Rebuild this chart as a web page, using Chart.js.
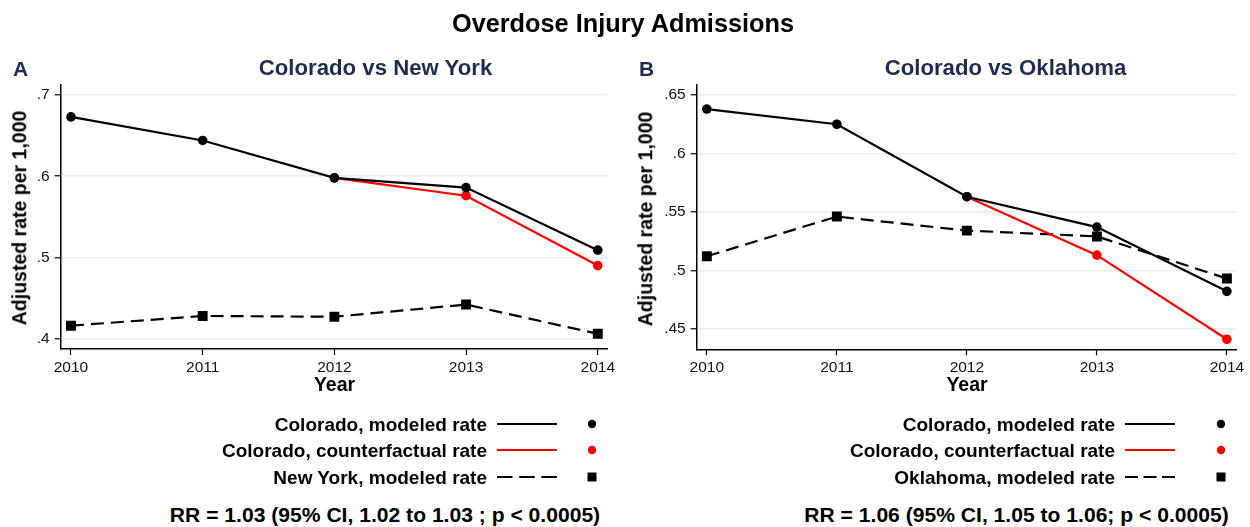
<!DOCTYPE html>
<html>
<head>
<meta charset="utf-8">
<script src="https://cdn.jsdelivr.net/npm/chart.js@4.4.0/dist/chart.umd.min.js"></script>
<style>
html,body{margin:0;padding:0;background:#fff;}
#root{position:relative;width:1250px;height:527px;overflow:hidden;font-family:'Liberation Sans',Arial,Helvetica,sans-serif;background:#fff;}
.t{position:absolute;white-space:nowrap;line-height:1;font-weight:bold;color:#000;}
.c{transform:translate(-50%,-50%);}
.r{transform:translate(-100%,-50%);text-align:right;}
.l{transform:translate(0,-50%);}
.v{transform:translate(-50%,-50%) rotate(-90deg);}
.navy{color:#1d2c4f;}
canvas{position:absolute;top:0;}
svg{position:absolute;left:0;top:0;}
</style>
</head>
<body>
<div id="root">
  <canvas id="chartA" width="625" height="400" style="left:0;width:625px;height:400px"></canvas>
  <canvas id="chartB" width="625" height="400" style="left:625px;width:625px;height:400px"></canvas>

  <div class="t c" style="left:623px;top:24px;font-size:25.3px">Overdose Injury Admissions</div>

  <div class="t l navy" style="left:13px;top:67.5px;font-size:21px">A</div>
  <div class="t c navy" style="left:375.5px;top:67.5px;font-size:22.2px">Colorado vs New York</div>
  <div class="t l navy" style="left:639px;top:67.5px;font-size:21px">B</div>
  <div class="t c navy" style="left:1005.5px;top:67.5px;font-size:22.2px">Colorado vs Oklahoma</div>

  <div class="t v" style="left:20px;top:217.5px;font-size:19.5px">Adjusted rate per 1,000</div>
  <div class="t v" style="left:645.5px;top:218.5px;font-size:19.5px">Adjusted rate per 1,000</div>
  <div class="t c" style="left:334.5px;top:385px;font-size:19.5px">Year</div>
  <div class="t c" style="left:967px;top:385px;font-size:19.5px">Year</div>

  <div class="t r" style="left:487px;top:424px;font-size:19px">Colorado, modeled rate</div>
  <div class="t r" style="left:487px;top:450px;font-size:19px">Colorado, counterfactual rate</div>
  <div class="t r" style="left:487px;top:476.5px;font-size:19px">New York, modeled rate</div>
  <div class="t r" style="left:1115px;top:424px;font-size:19px">Colorado, modeled rate</div>
  <div class="t r" style="left:1115px;top:450px;font-size:19px">Colorado, counterfactual rate</div>
  <div class="t r" style="left:1115px;top:476.5px;font-size:19px">Oklahoma, modeled rate</div>

  <div class="t c" style="left:385px;top:515px;font-size:21.1px">RR = 1.03 (95% CI, 1.02 to 1.03 ; p &lt; 0.0005)</div>
  <div class="t c" style="left:1016.5px;top:515px;font-size:21.1px">RR = 1.06 (95% CI, 1.05 to 1.06; p &lt; 0.0005)</div>

  <svg width="1250" height="527" viewBox="0 0 1250 527">
    <line x1="497" y1="424" x2="557" y2="424" stroke="#000" stroke-width="2.2"/>
    <circle cx="592" cy="424" r="4.2" fill="#000"/>
    <line x1="497" y1="450" x2="557" y2="450" stroke="#ff0000" stroke-width="2.2"/>
    <circle cx="592" cy="450" r="4.2" fill="#ff0000"/>
    <line x1="497" y1="477" x2="557" y2="477" stroke="#000" stroke-width="2.2" stroke-dasharray="15.5 6.7"/>
    <rect x="587.5" y="472.5" width="9" height="9" fill="#000"/>

    <line x1="1125" y1="424" x2="1175" y2="424" stroke="#000" stroke-width="2.2"/>
    <circle cx="1221" cy="424" r="4.2" fill="#000"/>
    <line x1="1125" y1="450" x2="1175" y2="450" stroke="#ff0000" stroke-width="2.2"/>
    <circle cx="1221" cy="450" r="4.2" fill="#ff0000"/>
    <line x1="1125" y1="477" x2="1175" y2="477" stroke="#000" stroke-width="2.2" stroke-dasharray="13 5.5"/>
    <rect x="1216.5" y="472.5" width="9" height="9" fill="#000"/>
  </svg>
</div>

<script>
// ---- data ----
const years = [2010, 2011, 2012, 2013, 2014];

const coloradoModeledA        = [0.673, 0.644, 0.598, 0.586, 0.509];
const coloradoCounterfactualA = [null, null, 0.598, 0.576, 0.490];
const newYorkModeled          = [0.416, 0.428, 0.427, 0.442, 0.406];

const coloradoModeledB        = [0.638, 0.625, 0.563, 0.537, 0.482];
const coloradoCounterfactualB = [null, null, 0.563, 0.513, 0.441];
const oklahomaModeled         = [0.512, 0.546, 0.534, 0.529, 0.493];

const yTicksA = [0.4, 0.5, 0.6, 0.7];
const yTicksB = [0.45, 0.5, 0.55, 0.6, 0.65];

const seriesLabelsA = ['Colorado, modeled rate', 'Colorado, counterfactual rate', 'New York, modeled rate'];
const seriesLabelsB = ['Colorado, modeled rate', 'Colorado, counterfactual rate', 'Oklahoma, modeled rate'];

// ---- chart construction ----
const FONT = "'Liberation Sans', Arial, Helvetica, sans-serif";

function toPoints(vals) {
  return years.map((x, i) => ({ x: x, y: vals[i] })).filter(p => p.y !== null);
}
function fmtTick(v) {
  return String(+Number(v).toFixed(2)).replace(/^0\./, '.');
}

function makeChart(id, modeled, counterfactual, comparison, labels, yTicks, ySpec, box) {
  new Chart(document.getElementById(id), {
    type: 'line',
    data: {
      datasets: [
        { label: labels[0], data: toPoints(modeled), borderColor: '#000', backgroundColor: '#000',
          borderWidth: 2.2, pointStyle: 'circle', pointRadius: 4.8, pointBorderWidth: 0, tension: 0 },
        { label: labels[1], data: toPoints(counterfactual), borderColor: '#ff0000', backgroundColor: '#ff0000',
          borderWidth: 2.2, pointStyle: 'circle', pointRadius: 4.8, pointBorderWidth: 0, tension: 0 },
        { label: labels[2], data: toPoints(comparison), borderColor: '#000', backgroundColor: '#000',
          borderWidth: 2.2, borderDash: [13, 7], pointStyle: 'rect', pointRadius: 7, pointBorderWidth: 0, tension: 0 }
      ]
    },
    options: {
      responsive: false,
      animation: false,
      events: [],
      layout: { padding: { left: 0, top: box.top, right: box.right, bottom: 0 } },
      plugins: { legend: { display: false }, tooltip: { enabled: false }, title: { display: false } },
      scales: {
        x: {
          type: 'linear', min: 2009.922, max: 2014.07,
          afterBuildTicks: s => { s.ticks = years.map(v => ({ value: v })); },
          afterFit: s => { s.height = 400 - box.bottom; },
          ticks: { callback: v => String(v), font: { family: FONT, size: 15.5 }, color: '#111',
                   padding: 3, maxRotation: 0, autoSkip: false },
          grid: { drawOnChartArea: false, tickLength: 6, tickColor: '#000', tickWidth: 1.2 },
          border: { color: '#000', width: 1.5 }
        },
        y: {
          min: ySpec.min, max: ySpec.max,
          afterBuildTicks: s => { s.ticks = yTicks.map(v => ({ value: v })); },
          afterFit: s => { s.width = box.left; },
          ticks: { callback: v => fmtTick(v), font: { family: FONT, size: 15.5 }, color: '#111',
                   padding: 5, autoSkip: false },
          grid: { color: '#e7eff1', lineWidth: 1.5, tickLength: 6, tickColor: '#000', tickWidth: 1.2 },
          border: { color: '#000', width: 1.5 }
        }
      }
    }
  });
}

makeChart('chartA', coloradoModeledA, coloradoCounterfactualA, newYorkModeled, seriesLabelsA,
  yTicksA, { min: 0.3873, max: 0.7123 }, { left: 60.7, right: 18, top: 85, bottom: 349 });
makeChart('chartB', coloradoModeledB, coloradoCounterfactualB, oklahomaModeled, seriesLabelsB,
  yTicksB, { min: 0.4324, max: 0.6586 }, { left: 71.7, right: 14, top: 85, bottom: 349.3 });
</script>
</body>
</html>
